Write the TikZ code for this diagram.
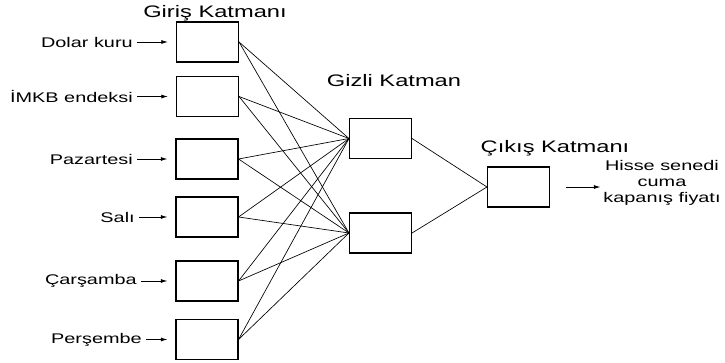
\documentclass[tikz,border=0pt]{standalone}
\usepackage{graphicx}
\usepackage{fontspec}
\setmainfont{Liberation Sans}
\usetikzlibrary{arrows.meta}

% horizontally stretched text, as in the scanned figure
\newcommand{\wtxt}[1]{\scalebox{1.42}[1]{#1}}

\tikzset{
  unit/.style={draw, line width=0.8pt, minimum width=46.5pt, minimum height=30pt, inner sep=0pt},
  lbl/.style={inner sep=0pt, font=\fontsize{10.5}{12}\selectfont},
  ttl/.style={inner sep=0pt, font=\fontsize{12.5}{14}\selectfont},
  inarr/.style={-{Latex[length=5pt,width=3pt]}, line width=0.6pt, shorten <=3pt, shorten >=6pt},
  wire/.style={line width=0.5pt}
}

\begin{document}
\begin{tikzpicture}[x=0.75pt,y=0.75pt,yscale=-1,xscale=1]
    \useasboundingbox (0,0) rectangle (725,363); %set diagram to 725 x 363

    %Titles
    \node[ttl] (tin) at (215,13) {\wtxt{Giriş Katmanı}};
    \node[ttl] (thid) at (394,81) {\wtxt{Gizli Katman}};
    \node[ttl] (tout) at (555,148) {\wtxt{Çıkış Katmanı}};

    %Shape: Rectangle - input layer
    \node[unit] (i1) at (207.5,42) {};
    \node[unit] (i2) at (207.5,96.5) {};
    \node[unit] (i3) at (207,159) {};
    \node[unit] (i4) at (207,217) {};
    \node[unit] (i5) at (207,281) {};
    \node[unit] (i6) at (207,339.5) {};

    %Shape: Rectangle - hidden layer
    \node[unit] (h1) at (380.5,138.5) {};
    \node[unit] (h2) at (380.5,233) {};

    %Shape: Rectangle - output layer
    \node[unit] (o1) at (518.5,187) {};

    %Input labels
    \node[lbl, anchor=east] (l1) at (133,42) {\wtxt{Dolar kuru}};
    \node[lbl, anchor=east] (l2) at (133,96.5) {\wtxt{İMKB endeksi}};
    \node[lbl, anchor=east] (l3) at (133,159) {\wtxt{Pazartesi}};
    \node[lbl, anchor=east] (l4) at (135,217) {\wtxt{Salı}};
    \node[lbl, anchor=east] (l5) at (137,281) {\wtxt{Çarşamba}};
    \node[lbl, anchor=east] (l6) at (142,339.5) {\wtxt{Perşembe}};

    %Output label
    \node[lbl, align=center] (otxt) at (662,183) {\wtxt{Hisse senedi}\\\wtxt{cuma}\\\wtxt{kapanış fiyatı}};

    %Straight Lines - input arrows
    \foreach \k in {1,...,6}
      \draw[inarr] (l\k.east) -- (i\k.west);

    %Straight Lines - input to hidden
    \foreach \k in {1,...,6}
      \foreach \j in {1,2}
        \draw[wire] (i\k.east) -- (h\j.west);

    %Straight Lines - hidden to output
    \foreach \j in {1,2}
      \draw[wire] (h\j.east) -- (o1.west);

    %Straight Lines - output arrow
    \draw[inarr, shorten <=12pt, shorten >=2pt] (o1.east) -- (o1.east -| otxt.west);

\end{tikzpicture}
\end{document}
